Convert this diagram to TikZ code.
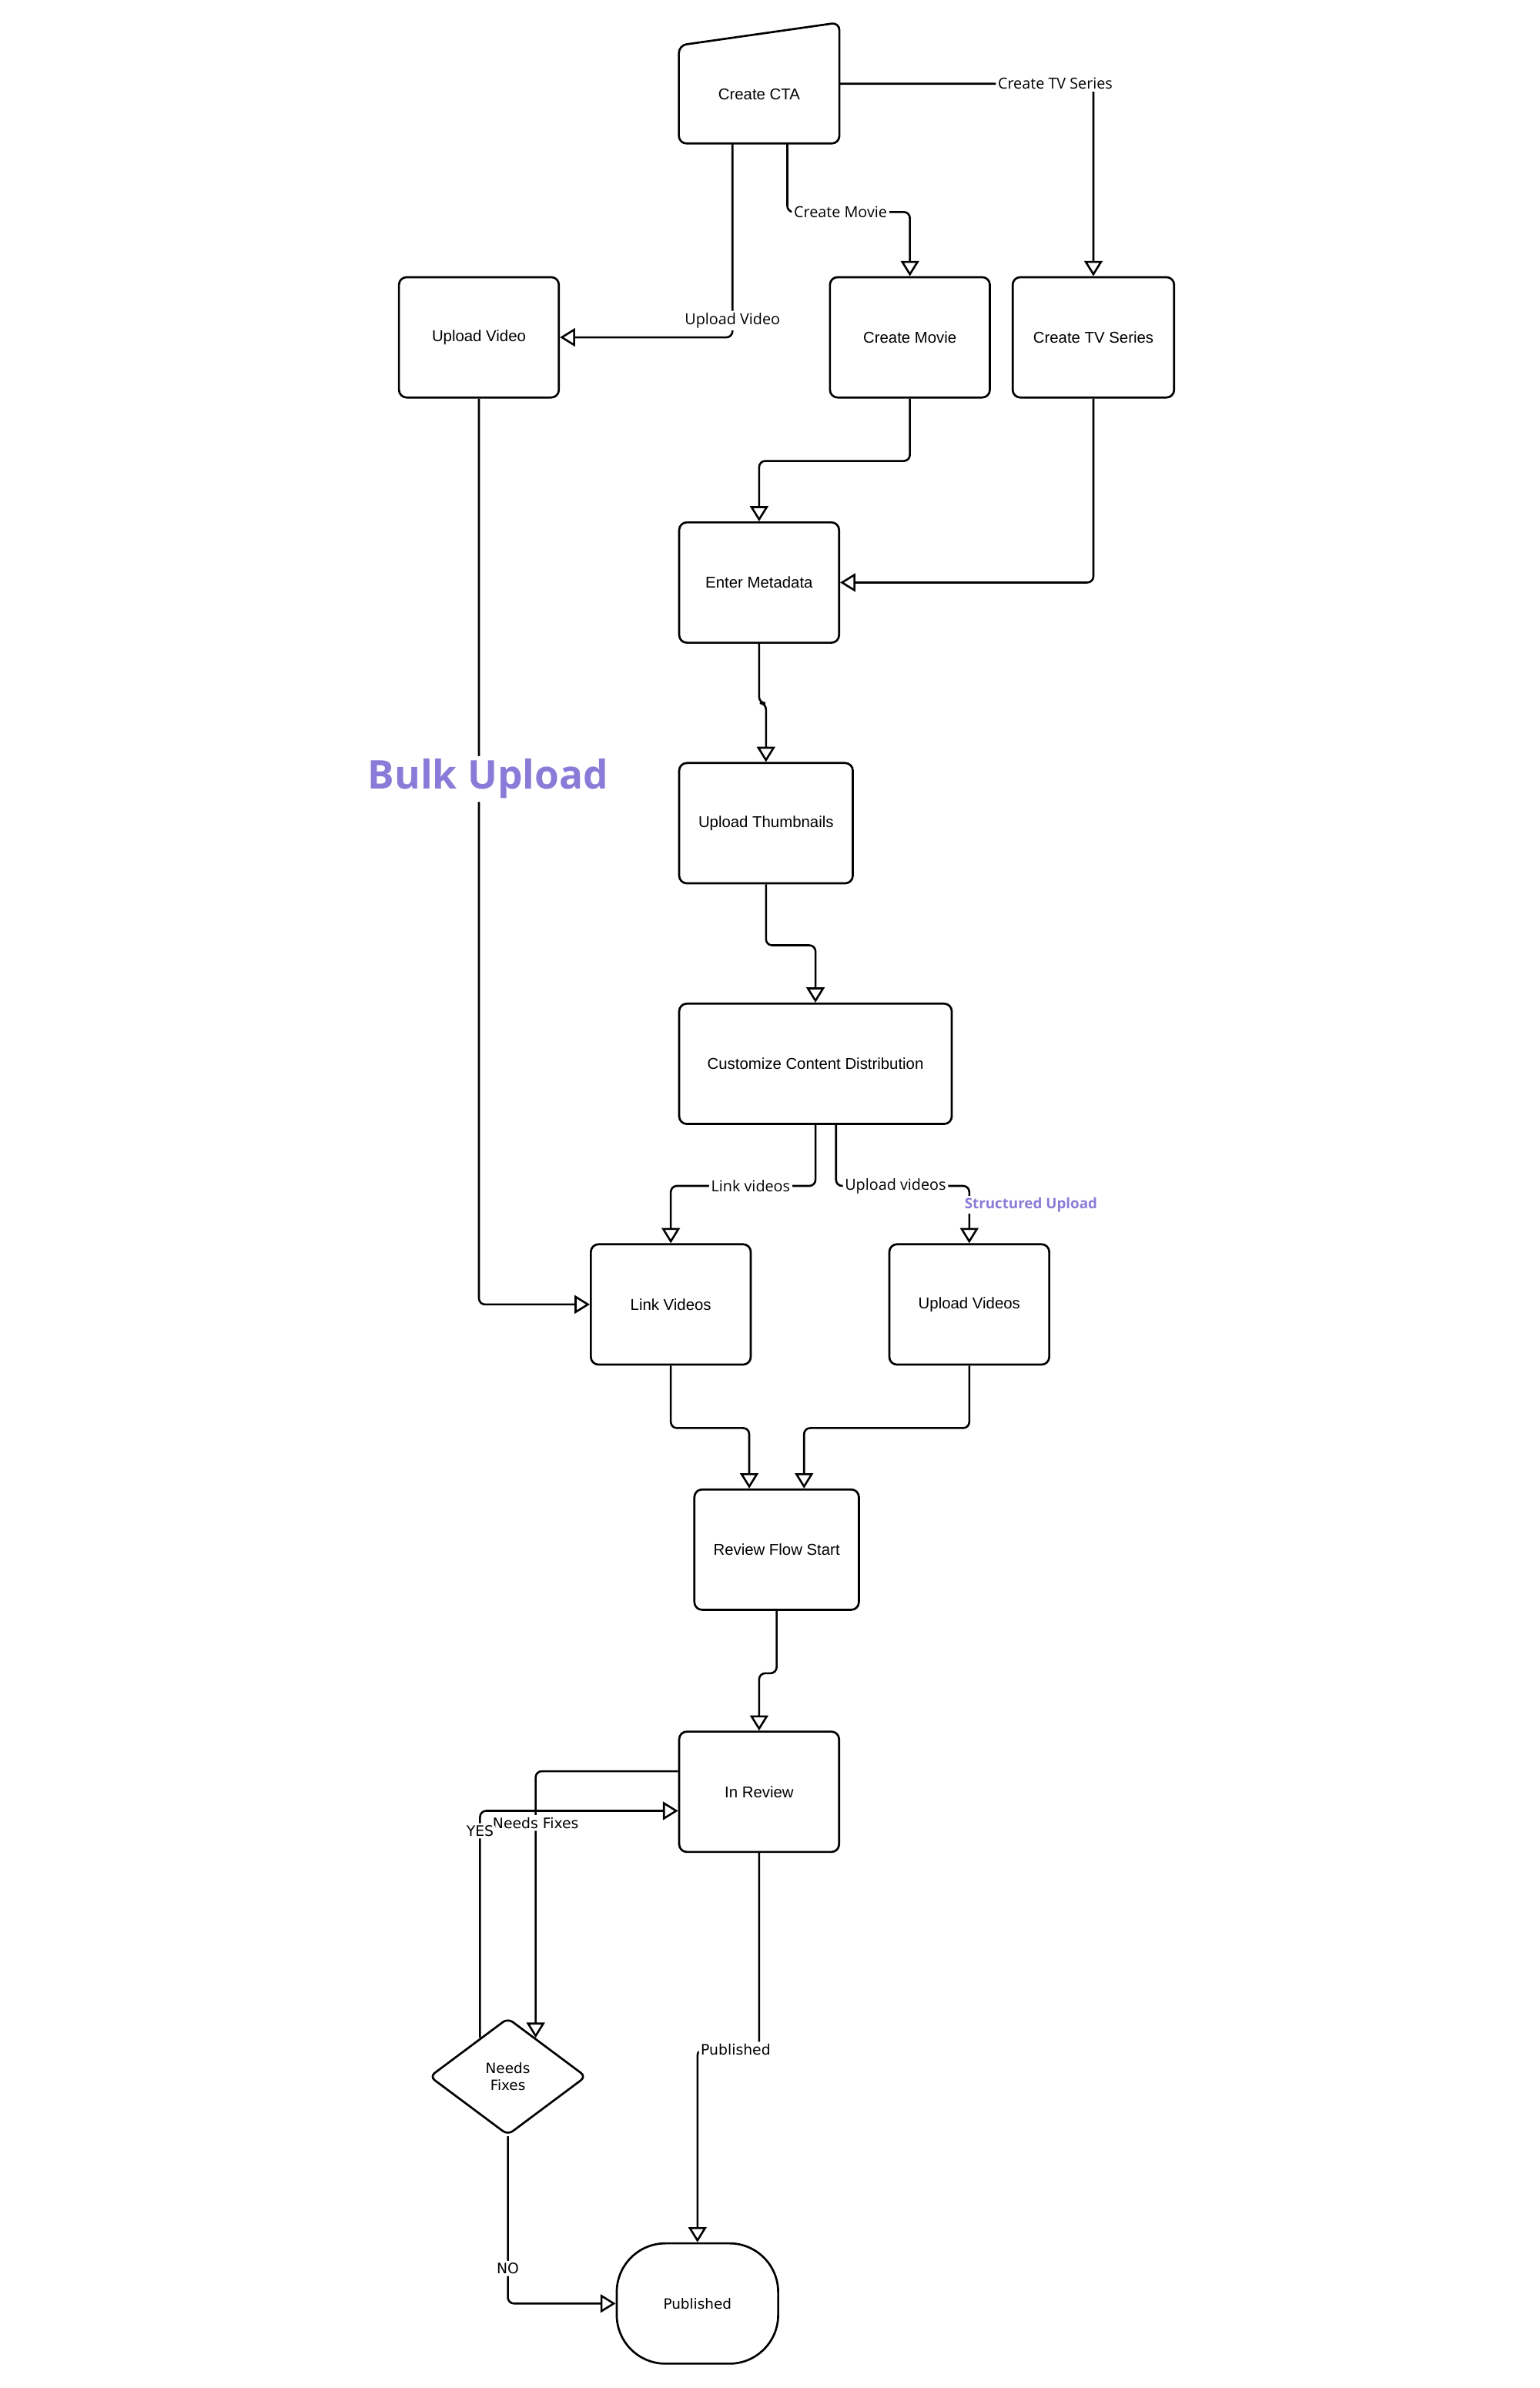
\documentclass[tikz,border=0pt]{standalone}
\usepackage{fontspec}
\setmainfont{Liberation Sans}
\newfontfamily\osans{Open Sans}
\newfontfamily\dvs{DejaVu Sans}
\usetikzlibrary{arrows.meta,shapes.geometric,calc}
\definecolor{bulk}{HTML}{8B7BD8}
\begin{document}
\begin{tikzpicture}[x=1pt,y=-1pt,
  box/.style={draw, rounded corners=5pt, line width=1.35pt, minimum width=105pt, minimum height=79pt, inner sep=0pt, font=\fontsize{10.3}{12}\selectfont},
  conn/.style={draw, line width=1.3pt, rounded corners=4pt, -{Triangle[open, length=10pt, width=12pt]}},
  lbl/.style={fill=white, inner sep=1.4pt, font=\osans\fontsize{10}{12}\selectfont},
  dlbl/.style={fill=white, inner sep=1.4pt, font=\dvs\fontsize{9.5}{11}\selectfont},
]
\useasboundingbox[fill=white] (0,0) rectangle (1011,1568);

% nodes
\node[minimum width=105pt, minimum height=64pt, inner sep=0pt, font=\fontsize{10.3}{12}\selectfont] (cta) at (498.5,62) {Create CTA};
\draw[line width=1.35pt, rounded corners=5pt] (cta.south west) -- (cta.south east) -- ([yshift=15pt]cta.north east) -- (cta.north west) -- cycle;

\node[box] (uv) at (314.5,221.5) {Upload Video};
\node[box] (cm) at (597.5,221.5) {Create Movie};
\node[box, minimum width=106pt] (tv) at (718,221.5) {Create TV Series};
\node[box] (em) at (498.5,382.5) {Enter Metadata};
\node[box, minimum width=114pt] (ut) at (503,540.5) {Upload Thumbnails};
\node[box, minimum width=179pt] (ccd) at (535.5,698.5) {Customize Content Distribution};
\node[box] (lv) at (440.5,856.5) {Link Videos};
\node[box] (upv) at (636.5,856.5) {Upload Videos};
\node[box, minimum width=108pt] (rfs) at (510,1017.5) {Review Flow Start};
\node[box] (ir) at (498.5,1176.5) {In Review};
\node[draw, diamond, line width=1.35pt, rounded corners=4pt, minimum width=103pt, minimum height=77pt, inner sep=0pt, align=center, font=\dvs\fontsize{9.3}{11.5}\selectfont] (nf) at (333.5,1363.5) {Needs\\Fixes};
\node[draw, line width=1.35pt, rounded corners=32pt, minimum width=106pt, minimum height=79pt, inner sep=0pt, font=\dvs\fontsize{9.3}{11}\selectfont] (pub) at (458,1512.5) {Published};

\coordinate (nfa) at ($(nf.north)!0.35!(nf.east)$);
\coordinate (nfb) at ($(nf.north)!0.35!(nf.west)$);

% connectors
\draw[conn] ([yshift=7pt]cta.east) -| node[lbl, pos=0.425] {Create TV Series} (tv.north);
\draw[conn] ([xshift=18.5pt]cta.south) -- ++(0,45) -| node[lbl, pos=0.217] {Create Movie} (cm.north);
\draw[conn] ([xshift=-17.5pt]cta.south) |- node[lbl, pos=0.457] {Upload Video} (uv.east);
\draw[conn] (cm.south) -- ++(0,41) -| (em.north);
\draw[conn] (tv.south) |- (em.east);
\draw[conn] (em.south) -- ++(0,39) -| (ut.north);
\draw[conn] (ut.south) -- ++(0,40) -| (ccd.north);
\draw[conn] (ccd.south) -- ++(0,40) -| node[lbl, pos=0.224] {Link videos} (lv.north);
\draw[conn] ([xshift=13.5pt]ccd.south) -- ++(0,40) -| node[lbl, pos=0.223] {Upload videos} (upv.north);
\node[font=\osans\bfseries\fontsize{9.5}{11}\selectfont, text=bulk, fill=white, inner sep=1pt] (su) at (677,791) {Structured Upload};
\draw[conn] (uv.south) |- node[pos=0.21, xshift=6pt, fill=white, inner sep=2pt, text=bulk, font=\osans\bfseries\fontsize{26}{30}\selectfont] {Bulk Upload} (lv.west);
\draw[conn] (lv.south) -- ++(0,41) -| ([xshift=-18pt]rfs.north);
\draw[conn] (upv.south) -- ++(0,41) -| ([xshift=18pt]rfs.north);
\draw[conn] (rfs.south) -- ++(0,41) -| (ir.north);
\draw[conn] ([yshift=13.5pt]ir.west) -| node[dlbl, pos=0.597] {Needs Fixes} (nfa);
\draw[conn] (nfb) |- node[dlbl, pos=0.456] {YES} ([yshift=-12.5pt]ir.west);
\draw[conn] (ir.south) -- ++(0,129) -| node[dlbl, pos=0.19] {Published} (pub.north);
\draw[conn] (nf.south) |- node[dlbl, pos=0.395] {NO} (pub.west);
\end{tikzpicture}
\end{document}
